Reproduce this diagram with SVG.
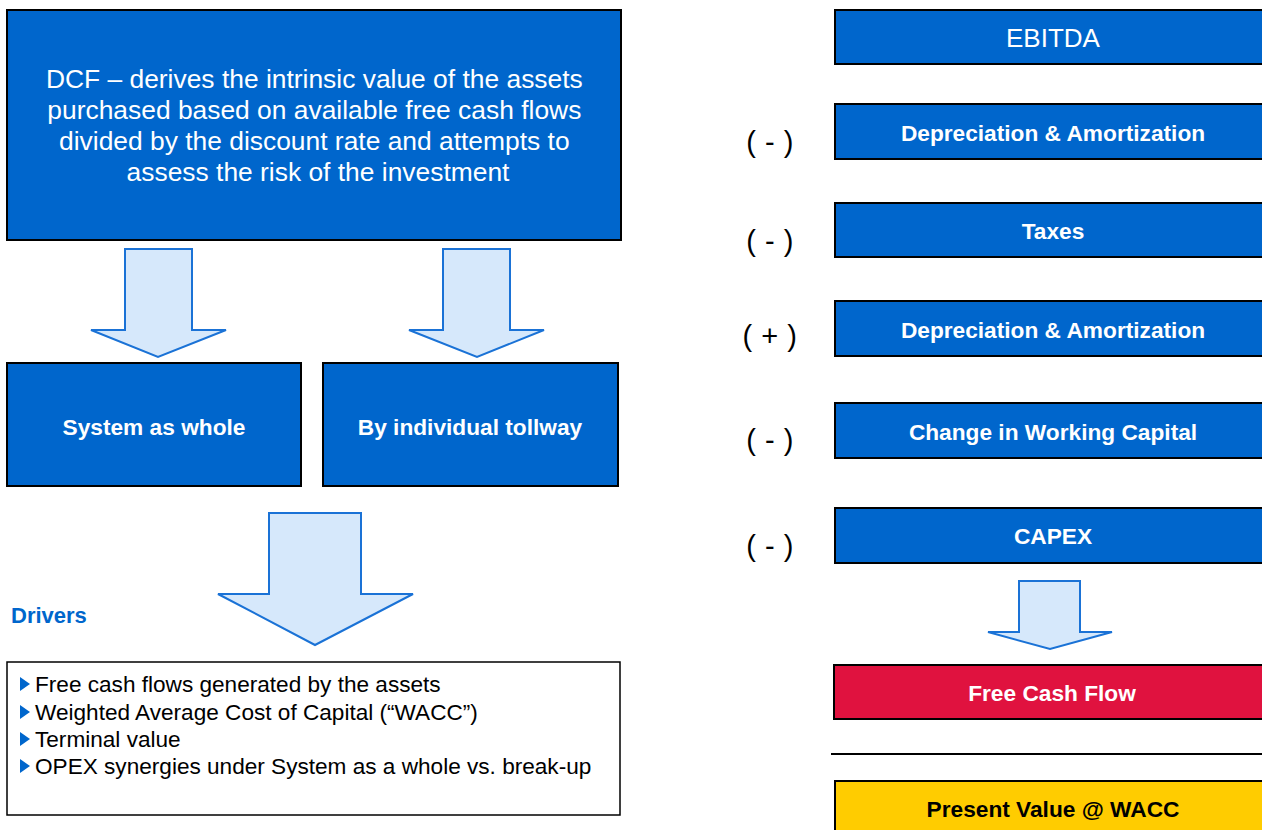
<svg xmlns="http://www.w3.org/2000/svg" width="1262" height="830" viewBox="0 0 1262 830">
<style>
.box{fill:#0066CC;stroke:#000;stroke-width:2}
.arr{fill:#D6E8FB;stroke:#1A72D6;stroke-width:2;stroke-linejoin:miter}
.wt{font-family:"Liberation Sans",Arial,sans-serif;fill:#fff;text-anchor:middle}
.b{font-weight:bold;font-size:22.7px}
.sign{font-family:"Liberation Sans",Arial,sans-serif;font-size:29px;fill:#000;text-anchor:middle;letter-spacing:0.5px}
.lst{font-family:"Liberation Sans",Arial,sans-serif;font-size:22.6px;fill:#000}
.tri{fill:#0066CC}
</style>
<rect width="1262" height="830" fill="#fff"/>
<g id="dcf">
<rect class="box" x="7" y="10" width="614" height="230"/>
<text class="wt" font-size="26.4" x="318">
<tspan x="318" y="88">DCF – derives the intrinsic value of the assets</tspan>
<tspan x="318" y="119">purchased based on available free cash flows</tspan>
<tspan x="318" y="150">divided by the discount rate and attempts to</tspan>
<tspan x="318" y="181">assess the risk of the investment</tspan>
</text>
</g>
<g id="connectors">
<polygon class="arr" points="125,249 192,249 192,330 226,330 158,357 91,330 125,330"/>
<polygon class="arr" points="443,249 510,249 510,330 544,330 477,357 409,330 443,330"/>
<polygon class="arr" points="269,513 361,513 361,594 413,594 315,645 218,594 269,594"/>
<polygon class="arr" points="1019,581 1080,581 1080,632 1112,632 1050,649 988,632 1019,632"/>
<line x1="831" y1="754" x2="1262" y2="754" stroke="#000" stroke-width="2"/>
</g>
<g id="system">
<rect class="box" x="7" y="363" width="294" height="123"/>
<text class="wt b" x="154" y="435">System as whole</text>
</g>
<g id="tollway">
<rect class="box" x="323" y="363" width="295" height="123"/>
<text class="wt b" x="470" y="435">By individual tollway</text>
</g>
<g id="drivers">
<text x="11" y="623" font-family="Liberation Sans,Arial,sans-serif" font-size="22" font-weight="bold" fill="#0066CC">Drivers</text>
<rect x="7" y="662" width="613" height="153" fill="#fff" stroke="#000" stroke-width="1.5"/>
<polygon class="tri" points="20,677 30,684 20,691"/>
<text class="lst" x="35" y="692">Free cash flows generated by the assets</text>
<polygon class="tri" points="20,705 30,712 20,719"/>
<text class="lst" x="35" y="720">Weighted Average Cost of Capital (“WACC”)</text>
<polygon class="tri" points="20,732 30,739 20,746"/>
<text class="lst" x="35" y="747">Terminal value</text>
<polygon class="tri" points="20,759 30,766 20,773"/>
<text class="lst" x="35" y="774">OPEX synergies under System as a whole vs. break-up</text>
</g>
<g id="ebitda">
<rect class="box" x="835" y="10" width="440" height="54"/>
<text class="wt" font-size="26" x="1053" y="47">EBITDA</text>
</g>
<g id="da1">
<text class="sign" x="770" y="152">( - )</text>
<rect class="box" x="835" y="104" width="440" height="55"/>
<text class="wt b" x="1053" y="141">Depreciation &amp; Amortization</text>
</g>
<g id="taxes">
<text class="sign" x="770" y="251">( - )</text>
<rect class="box" x="835" y="203" width="440" height="54"/>
<text class="wt b" x="1053" y="239">Taxes</text>
</g>
<g id="da2">
<text class="sign" x="770" y="346">( + )</text>
<rect class="box" x="835" y="301" width="440" height="55"/>
<text class="wt b" x="1053" y="338">Depreciation &amp; Amortization</text>
</g>
<g id="wc">
<text class="sign" x="770" y="450">( - )</text>
<rect class="box" x="835" y="403" width="440" height="55"/>
<text class="wt b" x="1053" y="440">Change in Working Capital</text>
</g>
<g id="capex">
<text class="sign" x="770" y="556">( - )</text>
<rect class="box" x="835" y="508" width="440" height="55"/>
<text class="wt b" x="1053" y="544">CAPEX</text>
</g>
<g id="fcf">
<rect x="834" y="665" width="440" height="54" fill="#E0123F" stroke="#000" stroke-width="2"/>
<text class="wt b" x="1052" y="701">Free Cash Flow</text>
</g>
<g id="pv">
<rect x="835" y="781" width="440" height="60" fill="#FFCC00" stroke="#000" stroke-width="2"/>
<text class="b" font-family="Liberation Sans,Arial,sans-serif" fill="#000" text-anchor="middle" x="1053" y="817">Present Value @ WACC</text>
</g>
</svg>
